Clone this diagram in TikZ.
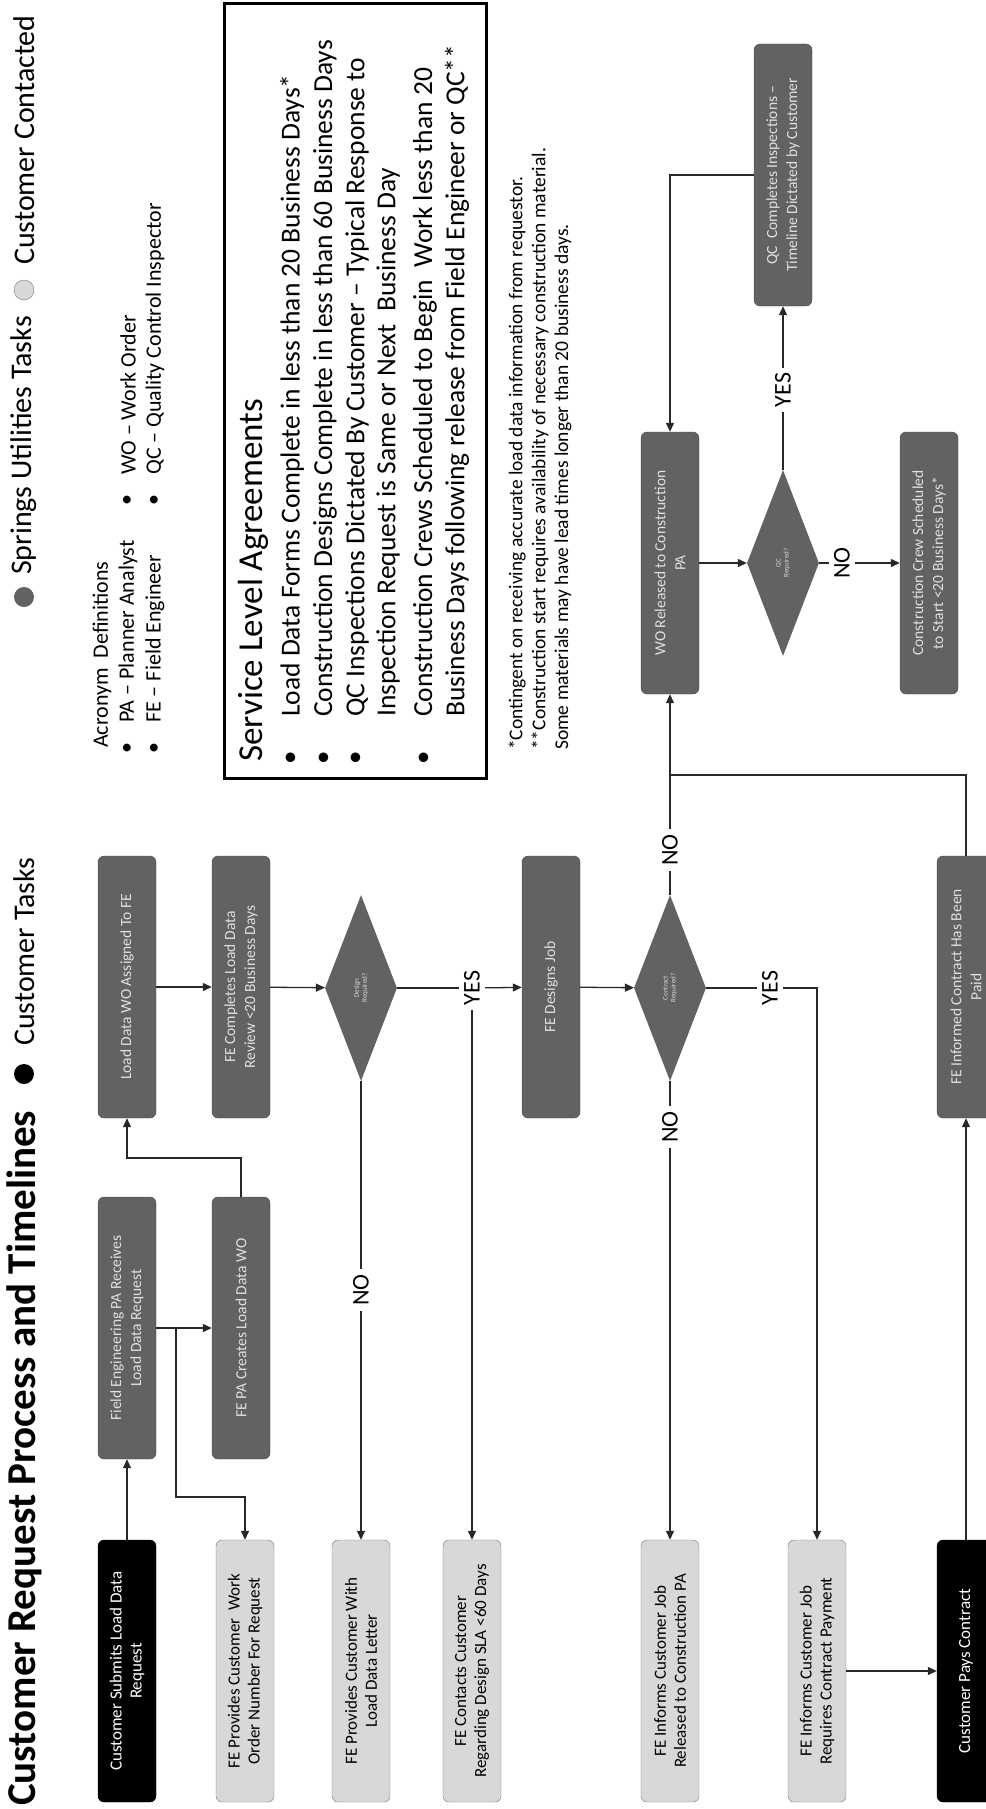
\documentclass[tikz,border=0pt]{standalone}
\usepackage{fontspec}
\setmainfont{Carlito}
\usetikzlibrary{arrows.meta,shapes.geometric}
\definecolor{UtilGray}{RGB}{98,98,98}
\definecolor{UtilEdge}{RGB}{70,74,104}
\definecolor{ContactFill}{RGB}{216,216,216}
\definecolor{ContactEdge}{RGB}{120,120,132}
\definecolor{FlowLine}{RGB}{40,40,40}
\newcommand{\fsz}[2]{\fontsize{#1}{#2}\selectfont}

\begin{document}
\begin{tikzpicture}[x=1pt, y=-1pt, >={Triangle[length=9pt, width=8pt]}]
    \tikzstyle{custbox}=[fill=black, draw=black, rounded corners=6pt, rotate=90, minimum width=262pt, minimum height=58pt, inner sep=2pt, align=center, text=white, font=\fsz{17}{20}]
    \tikzstyle{utilbox}=[custbox, fill=UtilGray, draw=UtilEdge, text=white!88!black, font=\fsz{15.5}{20}]
    \tikzstyle{contactbox}=[custbox, fill=ContactFill, draw=ContactEdge, text=black, font=\fsz{17}{20}]
    \tikzstyle{decision}=[diamond, rotate=90, fill=UtilGray, minimum width=186pt, minimum height=72pt, inner sep=0pt, align=center, text=white!85!black, font=\fsz{7}{8}]
    \tikzstyle{answer}=[rotate=90, inner sep=5pt, font=\fsz{24}{24}]
    \tikzstyle{flow}=[draw=FlowLine, line width=1.3pt]
    \tikzstyle{textline}=[rotate=90, anchor=west, inner sep=0pt]
    \useasboundingbox (0,0) rectangle (985,1809);

    % title and legend
    \node[textline, font=\fsz{41}{41}\bfseries] (title) at (24,1806) {Customer Request Process and Timelines};
    \node[circle, fill=black, minimum size=20pt, inner sep=0pt] (legcust) at (24,1074) {};
    \node[textline, font=\fsz{30}{30}] (legcusttxt) at (24,1046) {Customer Tasks};
    \node[circle, fill=UtilGray, minimum size=20pt, inner sep=0pt] (legutil) at (24,597) {};
    \node[textline, font=\fsz{30}{30}] (legutiltxt) at (24,575) {Springs Utilities Tasks};
    \node[circle, fill=ContactFill, draw=ContactEdge, minimum size=20pt, inner sep=0pt] (legcont) at (24,290) {};
    \node[textline, font=\fsz{30}{30}] (legconttxt) at (24,265) {Customer Contacted};

    % acronyms
    \node[textline, font=\fsz{22}{22}] (acrhead) at (102,748) {Acronym\ \ Definitions};
    \foreach \ax/\ay/\atext in {128/748/{PA -- Planner Analyst}, 155/748/{FE -- Field Engineer}, 128/500/{WO -- Work Order}, 155/500/{QC -- Quality Control Inspector}} {
        \node[rotate=90, font=\fsz{22}{22}] at (\ax,\ay) {\textbullet};
        \node[textline, font=\fsz{22}{22}] at (\ax,\ay-25) {\atext};
    }

    % service level agreements
    \draw[line width=3pt] (224,4) rectangle (486,778);
    \node[textline, font=\fsz{35}{35}] (slahead) at (253,762) {Service Level Agreements};
    \foreach \bx in {292,325,357,425}
        \node[rotate=90, font=\fsz{27}{27}] at (\bx,758) {\textbullet};
    \foreach \lx/\ltext in {292/{Load Data Forms Complete in less than 20 Business Days*},
                            325/{Construction Designs Complete in less than 60 Business Days},
                            357/{QC Inspections Dictated By Customer -- Typical Response to},
                            388/{Inspection Request is Same or Next\ \ Business Day},
                            425/{Construction Crews Scheduled to Begin\ \ Work less than 20},
                            457/{Business Days following release from Field Engineer or QC**}}
        \node[textline, font=\fsz{27.5}{27.5}] at (\lx,717) {\ltext};

    % footnotes
    \foreach \fx/\ftext in {517/{*Contingent on receiving accurate load data information from requestor.},
                            540/{**Construction start requires availability of necessary construction material.},
                            563/{Some materials may have lead times longer than 20 business days.}}
        \node[textline, font=\fsz{19.5}{19.5}] at (\fx,750) {\ftext};

    % customer side (bottom row)
    \node[custbox] (cust1) at (127,1671) {Customer Submits Load Data\\Request};
    \node[contactbox] (con1) at (245,1671) {FE Provides Customer\ \ Work\\Order Number For Request};
    \node[contactbox] (con2) at (361,1671) {FE Provides Customer With\\Load Data Letter};
    \node[contactbox] (con3) at (472,1671) {FE Contacts Customer\\Regarding Design SLA <60 Days};
    \node[contactbox] (con4) at (670,1671) {FE Informs Customer Job\\Released to Construction PA};
    \node[contactbox] (con5) at (817,1671) {FE Informs Customer Job\\Requires Contract Payment};
    \node[custbox] (cust2) at (966,1671) {Customer Pays Contract};

    % utilities tasks
    \node[utilbox] (pa1) at (127,1328) {Field Engineering PA Receives\\Load Data Request};
    \node[utilbox] (pa2) at (241,1328) {FE PA Creates Load Data WO};
    \node[utilbox] (wo1) at (127,987) {Load Data WO Assigned To FE};
    \node[utilbox] (fe1) at (241,987) {FE Completes Load Data\\Review <20 Business Days};
    \node[decision] (dec1) at (361,988) {Design\\Required?};
    \node[utilbox] (fe2) at (551,987) {FE Designs Job};
    \node[decision] (dec2) at (670,988) {Contract\\Required?};
    \node[utilbox] (fe3) at (966,987) {FE Informed Contract Has Been\\Paid};
    \node[utilbox] (wo2) at (670,563) {WO Released to Construction\\PA};
    \node[decision] (dec3) at (783,563) {QC\\Required?};
    \node[utilbox] (qc1) at (783,175) {QC\ \ Completes Inspections --\\Timeline Dictated by Customer};
    \node[utilbox] (crew) at (929,563) {Construction Crew Scheduled\\to Start <20 Business Days*};

    % answers
    \node[answer] (no1) at (361,1290) {NO};
    \node[answer] (yes1) at (472,988) {YES};
    \node[answer] (no2) at (670,850) {NO};
    \node[answer] (no3) at (670,1127) {NO};
    \node[answer] (yes2) at (770,988) {YES};
    \node[answer] (yes3) at (783,390) {YES};
    \node[answer] (no4) at (842,563) {NO};
    \coordinate (j1) at (176,1328);
    \coordinate (m1) at (670,775);

    % connectors
    \draw[flow, ->] (cust1) -- (pa1);
    \draw[flow, ->] (pa1) -- (pa2);
    \draw[flow, ->] (j1) -- ++(0,169) -| (con1);
    \draw[flow, ->] (pa2) -- ++(0,-170) -| (wo1);
    \draw[flow, ->] (wo1) -- (fe1);
    \draw[flow, ->] (fe1) -- (dec1);
    \draw[flow] (dec1) -- (yes1);
    \draw[flow, ->] (yes1) -- (fe2);
    \draw[flow, ->] (yes1) -- (yes1 |- con3.east);
    \draw[flow] (dec1) -- (no1);
    \draw[flow, ->] (no1) -- (con2);
    \draw[flow, ->] (fe2) -- (dec2);
    \draw[flow] (dec2) -- (yes2);
    \draw[flow, ->] (yes2) -| (con5);
    \draw[flow] (dec2) -- (no3);
    \draw[flow, ->] (no3) -- (con4);
    \draw[flow] (dec2) -- (no2);
    \draw[flow, ->] (no2) -- (wo2);
    \draw[flow] (fe3) |- (m1);
    \draw[flow, ->] (cust2) -- (fe3);
    \draw[flow, ->] (con5) -- (cust2);
    \draw[flow, ->] (wo2) -- (dec3);
    \draw[flow] (dec3) -- (yes3);
    \draw[flow, ->] (yes3) -- (qc1);
    \draw[flow] (dec3) -- (no4);
    \draw[flow, ->] (no4) -- (crew);
    \draw[flow, ->] (qc1) -| (wo2);
\end{tikzpicture}
\end{document}
